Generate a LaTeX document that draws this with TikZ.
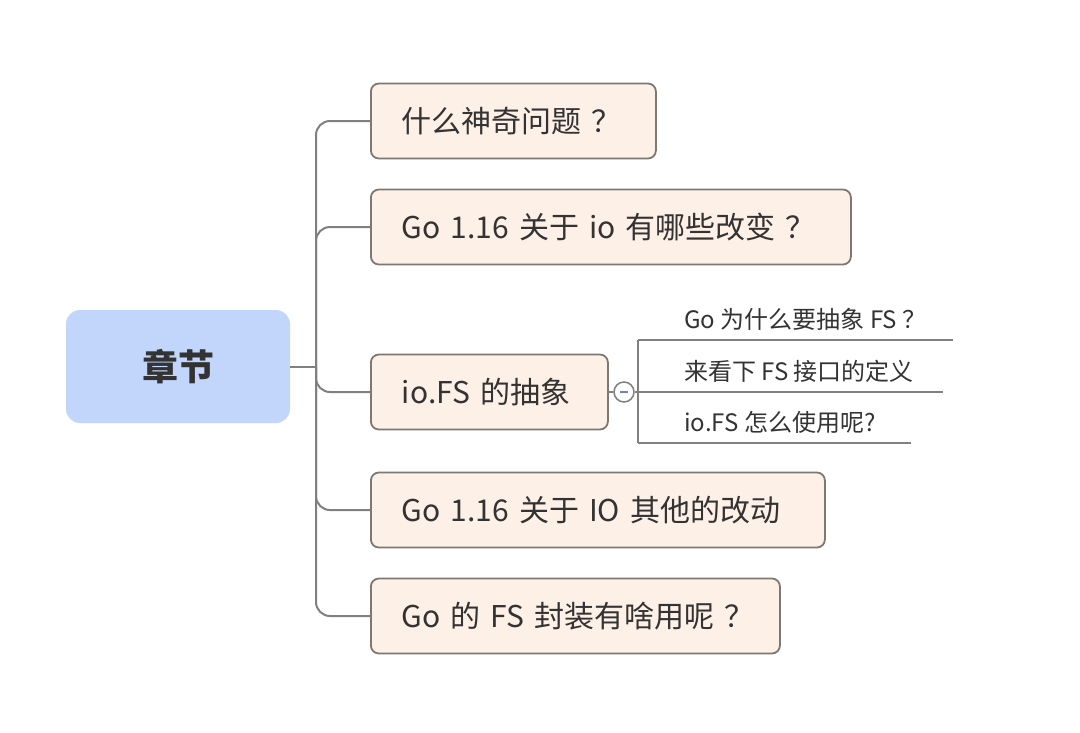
\documentclass[tikz,border=0pt]{standalone}
\usepackage{fontspec}
\setmainfont{Noto Sans CJK SC}
\definecolor{rootfill}{HTML}{C2D6FC}
\definecolor{childfill}{HTML}{FDF0E6}
\definecolor{childborder}{HTML}{7D7873}
\definecolor{linecol}{HTML}{808080}
\definecolor{txt}{HTML}{333333}
\definecolor{minuscol}{HTML}{6F82D2}
\tikzset{
  rootbox/.style={fill=rootfill, rounded corners=14pt, minimum width=224pt, minimum height=113pt, inner sep=0pt, text=txt, font=\fontsize{36}{40}\selectfont\bfseries},
  childbox/.style={fill=childfill, draw=childborder, line width=1.8pt, rounded corners=8pt, minimum height=75pt, anchor=west, inner sep=0pt, inner xsep=31pt, text width=#1, align=left, text=txt, font=\fontsize{30}{35}\selectfont},
  conn/.style={draw=linecol, line width=2pt, rounded corners=14pt},
  subtext/.style={anchor=base west, text=txt, inner sep=0pt, font=\fontsize{24}{29}\selectfont},
  subline/.style={draw=linecol, line width=1.7pt},
}
\begin{document}
\begin{tikzpicture}[x=1pt,y=-1pt]
\useasboundingbox[fill=white] (0,0) rectangle (1080,732);
\node[rootbox] (root) at (178,366.5) {章节};
\node[childbox=223pt] (c1) at (370,121) {\mbox{什么神奇问题 ？}};
\node[childbox=418pt] (c2) at (370,227) {\mbox{Go 1.16 关于 io 有哪些改变 ？}};
\node[childbox=175pt] (c3) at (370,392) {\mbox{io.FS 的抽象}};
\node[childbox=392pt] (c4) at (370,510) {\mbox{Go 1.16 关于 IO 其他的改动}};
\node[childbox=347pt] (c5) at (370,616) {\mbox{Go 的 FS 封装有啥用呢 ？}};
\coordinate (trunk) at (316,366.5);
\draw[conn] (root.east) -- (trunk);
\draw[conn] (trunk) |- (c1.west);
\draw[conn] (trunk) |- (c2.west);
\draw[conn] (trunk) |- (c3.west);
\draw[conn] (trunk) |- (c4.west);
\draw[conn] (trunk) |- (c5.west);
% sub branches
\node[draw=linecol, line width=1.5pt, fill=white, circle, minimum size=20pt, inner sep=0pt] (col) at (624,392) {};
\draw[minuscol, line width=1.4pt] ([xshift=-4pt]col.center) -- ([xshift=4pt]col.center);
\coordinate (s1a) at (638,340); \coordinate (s1b) at (953,340);
\coordinate (s2a) at (638,392); \coordinate (s2b) at (943,392);
\coordinate (s3a) at (638,443); \coordinate (s3b) at (911,443);
\draw[subline] (s1a) -- (s3a);
\draw[subline] (c3.east) -- (col.west);
\draw[subline] (col.east) -- (s2a);
\draw[subline] (s1a) -- (s1b);
\draw[subline] (s2a) -- (s2b);
\draw[subline] (s3a) -- (s3b);
\node[subtext] (t1) at (684,328) {Go 为什么要抽象 FS ？};
\node[subtext] (t2) at (684,380) {来看下 FS 接口的定义};
\node[subtext] (t3) at (684,431) {io.FS 怎么使用呢?};
\end{tikzpicture}
\end{document}
